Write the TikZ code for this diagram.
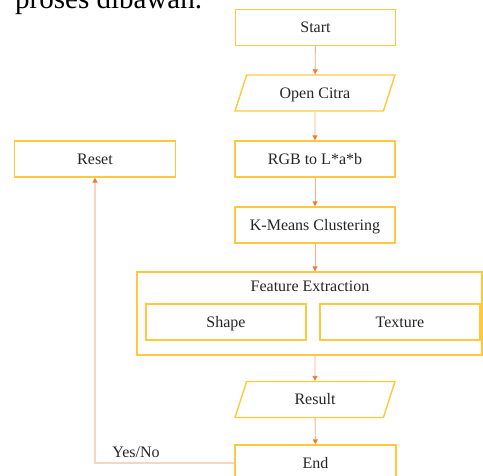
\documentclass[tikz,border=0pt]{standalone}
\usepackage{fontspec}
\usepackage{tikz}
\usetikzlibrary{arrows.meta,calc,positioning,shapes.geometric}
\setmainfont{Liberation Serif}
\definecolor{BoxLine}{HTML}{FFC83D}
\definecolor{FlowLine}{HTML}{F4B183}
\definecolor{FlowTip}{HTML}{ED7D31}
\definecolor{BackLine}{HTML}{F8D5C0}
\definecolor{InkDark}{HTML}{262626}
\tikzset{
  stepbox/.style={rectangle, draw=BoxLine, line width=1.4pt, fill=white,
             minimum width=160pt, minimum height=36pt, inner sep=0pt,
             text height=13pt, text depth=2.4pt,
             text=InkDark, font=\fontsize{16}{19}\selectfont},
  iobox/.style={trapezium, trapezium left angle=53, trapezium right angle=127,
             trapezium stretches body, draw=BoxLine, line width=1.4pt, fill=white,
             minimum width=160pt, minimum height=36pt, inner sep=0pt,
             text height=13pt, text depth=2.4pt,
             text=InkDark, font=\fontsize{16}{19}\selectfont},
  groupbox/.style={rectangle, draw=BoxLine, line width=1.4pt,
             minimum width=345pt, minimum height=83pt, inner sep=0pt},
  flow/.style={draw=FlowLine, line width=0.9pt,
             -{Triangle[width=5pt,length=5pt,color=FlowTip]}},
  backflow/.style={draw=BackLine, line width=1.3pt,
             -{Triangle[width=5pt,length=5pt,color=FlowTip]}},
  lbl/.style={text=InkDark, font=\fontsize{16}{19}\selectfont, inner sep=1pt},
}
\begin{document}
\begin{tikzpicture}[x=1pt, y=-1pt]
\useasboundingbox (0,0) rectangle (483,475);
\clip (0,0) rectangle (483,475);
\node[anchor=base west, inner sep=0pt, font=\fontsize{29}{34}\selectfont] (intro) at (15,8) {proses dibawah.};
% main column
\node[stepbox] (start) at (315.5,27.5) {Start};
\node[iobox] (open) at (315,93) {Open Citra};
\node[stepbox] (rgb) at (315,159) {RGB to L*a*b};
\node[stepbox, minimum width=161pt] (reset) at (95,159) {Reset};
\node[stepbox] (km) at (315,225) {K-Means Clustering};
\node[groupbox] (feat) at (309.5,313.5) {};
\node[lbl] (featlbl) at (310,286) {Feature Extraction};
\node[stepbox] (shape) at (226,322) {Shape};
\node[stepbox] (texture) at (400,322) {Texture};
\node[iobox] (result) at (315,399.5) {Result};
\node[stepbox, minimum width=161pt] (end) at (315.5,463) {End};
% connectors
\draw[flow] (start) -- (open);
\draw[flow] (open) -- (rgb);
\draw[flow] (rgb) -- (km);
\draw[flow] (km) -- (km |- feat.north);
\draw[flow] (feat.south -| result) -- (result);
\draw[flow] (result) -- (end);
\draw[backflow] (end.west) -| (reset.south);
\node[lbl, anchor=south] (yesno) at (136,459) {Yes/No};
\end{tikzpicture}
\end{document}
